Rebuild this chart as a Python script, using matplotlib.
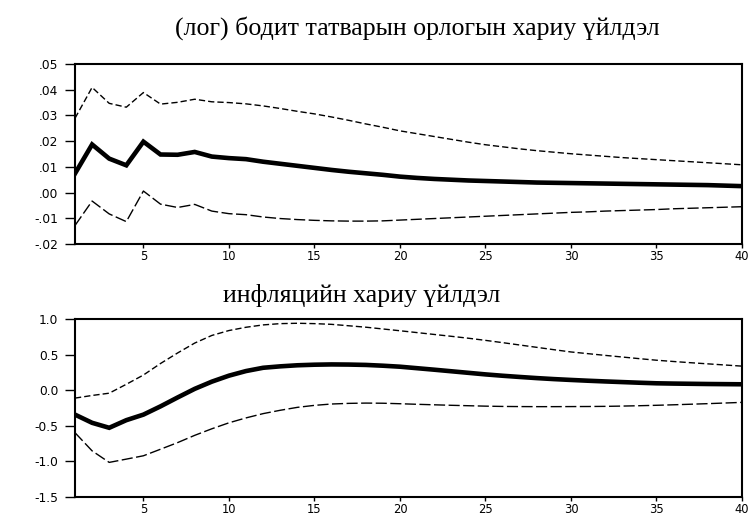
import matplotlib
matplotlib.use("Agg")
import matplotlib.pyplot as plt
import numpy as np

periods = list(range(1, 41))

tax_resp = [0.0074, 0.0187, 0.0132, 0.0106, 0.0198, 0.0148, 0.0147, 0.0158, 0.0140, 0.0134,
            0.0130, 0.0120, 0.0112, 0.0104, 0.0096, 0.0088, 0.0081, 0.0075, 0.0069, 0.0062,
            0.0057, 0.0053, 0.0050, 0.0047, 0.0045, 0.0043, 0.0041, 0.0039, 0.0038, 0.0037,
            0.0036, 0.0035, 0.0034, 0.0033, 0.0032, 0.0031, 0.0030, 0.0029, 0.0027, 0.0025]
tax_upper = [0.0289, 0.0409, 0.0347, 0.0332, 0.0389, 0.0344, 0.0351, 0.0363, 0.0353, 0.0350,
             0.0345, 0.0337, 0.0327, 0.0316, 0.0306, 0.0294, 0.0281, 0.0267, 0.0254, 0.0240,
             0.0229, 0.0218, 0.0207, 0.0196, 0.0186, 0.0178, 0.0170, 0.0163, 0.0157, 0.0151,
             0.0146, 0.0141, 0.0136, 0.0132, 0.0128, 0.0124, 0.0120, 0.0116, 0.0112, 0.0108]
tax_lower = [-0.0128, -0.0033, -0.0083, -0.0113, 0.0006, -0.0045, -0.0058, -0.0046, -0.0072, -0.0082,
             -0.0086, -0.0095, -0.0101, -0.0105, -0.0108, -0.0110, -0.0111, -0.0111, -0.0110, -0.0107,
             -0.0104, -0.0101, -0.0098, -0.0095, -0.0092, -0.0089, -0.0086, -0.0083, -0.0080, -0.0077,
             -0.0075, -0.0072, -0.0070, -0.0068, -0.0066, -0.0063, -0.0061, -0.0059, -0.0057, -0.0055]

inf_resp = [-0.343, -0.458, -0.528, -0.421, -0.343, -0.227, -0.102, 0.019, 0.120, 0.204,
            0.269, 0.315, 0.335, 0.350, 0.358, 0.362, 0.360, 0.355, 0.344, 0.330,
            0.309, 0.288, 0.266, 0.244, 0.222, 0.203, 0.186, 0.170, 0.156, 0.144,
            0.133, 0.123, 0.114, 0.105, 0.097, 0.093, 0.090, 0.087, 0.085, 0.083]
inf_upper = [-0.111, -0.074, -0.042, 0.083, 0.213, 0.375, 0.523, 0.662, 0.769, 0.838,
             0.884, 0.917, 0.935, 0.940, 0.935, 0.925, 0.905, 0.885, 0.860, 0.835,
             0.809, 0.783, 0.757, 0.730, 0.700, 0.668, 0.635, 0.602, 0.569, 0.537,
             0.513, 0.489, 0.466, 0.443, 0.421, 0.403, 0.386, 0.370, 0.354, 0.338]
inf_lower = [-0.597, -0.852, -1.014, -0.968, -0.921, -0.829, -0.736, -0.634, -0.542, -0.458,
             -0.389, -0.329, -0.282, -0.241, -0.213, -0.194, -0.185, -0.181, -0.183, -0.190,
             -0.198, -0.205, -0.212, -0.218, -0.224, -0.228, -0.230, -0.231, -0.231, -0.230,
             -0.229, -0.227, -0.223, -0.218, -0.212, -0.205, -0.197, -0.189, -0.180, -0.171]

title_top = "(лог) бодит татварын орлогын хариу үйлдэл"
title_bot = "инфляцийн хариу үйлдэл"
xticks = [5, 10, 15, 20, 25, 30, 35, 40]
yticks_top = [0.05, 0.04, 0.03, 0.02, 0.01, 0.00, -0.01, -0.02]
ylabels_top = [".05", ".04", ".03", ".02", ".01", ".00", "-.01", "-.02"]
yticks_bot = [1.0, 0.5, 0.0, -0.5, -1.0, -1.5]
ylabels_bot = ["1.0", "0.5", "0.0", "-0.5", "-1.0", "-1.5"]

W, H = 751, 517
fig = plt.figure(figsize=(W / 100, H / 100), dpi=100)

def fx(px):
    return px / W

def fy(py):
    return 1 - py / H

ax1 = fig.add_axes([fx(75), fy(244), fx(742) - fx(75), fy(64) - fy(244)])
ax2 = fig.add_axes([fx(75), fy(497), fx(742) - fx(75), fy(319) - fy(497)])

ytick_font = dict(family="DejaVu Sans", size=8.8)
xtick_font = dict(family="DejaVu Sans", size=8.3)

def style(ax, resp, up, lo, yt, yl, ylim):
    ax.plot(periods, resp, color="black", lw=3.3, solid_joinstyle="miter")
    ax.plot(periods, up, color="black", lw=1.0, dashes=(4.5, 2.2))
    ax.plot(periods, lo, color="black", lw=1.0, dashes=(8, 2.5))
    ax.set_xlim(1, 40)
    ax.set_ylim(*ylim)
    ax.set_xticks(xticks)
    ax.set_xticklabels([str(t) for t in xticks], fontdict=xtick_font)
    ax.set_yticks(yt)
    ax.set_yticklabels(yl, fontdict=ytick_font)
    ax.tick_params(axis="y", direction="out", length=7, width=1, pad=5)
    ax.tick_params(axis="x", direction="out", length=3, width=1, pad=1.5)
    for s in ax.spines.values():
        s.set_linewidth(1.5)

style(ax1, tax_resp, tax_upper, tax_lower, yticks_top, ylabels_top, (-0.02, 0.05))
style(ax2, inf_resp, inf_upper, inf_lower, yticks_bot, ylabels_bot, (-1.5, 1.0))

fig.text(fx(417), fy(35), title_top, family="Liberation Serif", size=18.6,
         ha="center", va="baseline")
fig.text(fx(362), fy(302), title_bot, family="Liberation Serif", size=18.6,
         ha="center", va="baseline")

fig.savefig("out.png", dpi=100)
